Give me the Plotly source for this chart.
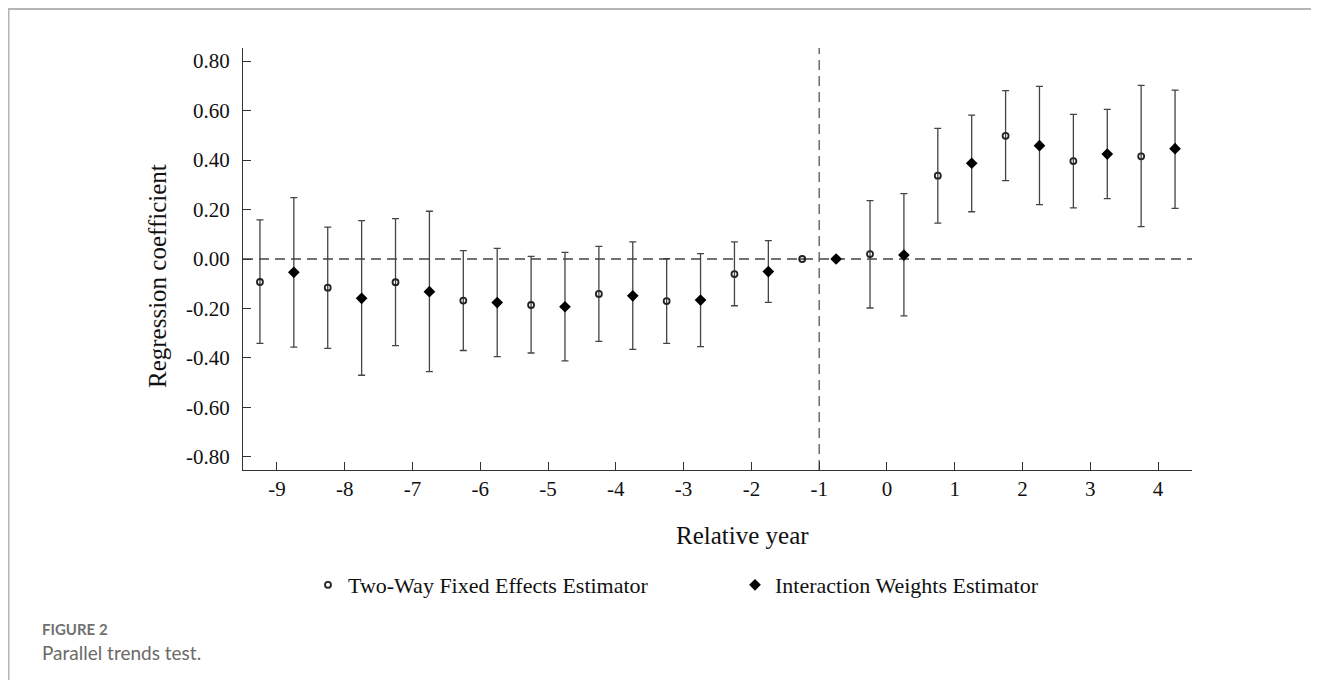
import plotly.graph_objects as go

# ---------------- data ----------------
years = [-9, -8, -7, -6, -5, -4, -3, -2, -1, 0, 1, 2, 3, 4]

twfe_coef = [-0.093, -0.116, -0.094, -0.168, -0.186, -0.141, -0.170, -0.061, 0.0, 0.020, 0.337, 0.498, 0.396, 0.415]
twfe_upper = [0.158, 0.129, 0.163, 0.034, 0.011, 0.051, 0.001, 0.069, None, 0.236, 0.528, 0.681, 0.585, 0.702]
twfe_lower = [-0.341, -0.361, -0.350, -0.370, -0.380, -0.333, -0.341, -0.189, None, -0.198, 0.145, 0.317, 0.207, 0.131]

iw_coef = [-0.054, -0.159, -0.132, -0.176, -0.193, -0.149, -0.166, -0.051, 0.0, 0.016, 0.387, 0.458, 0.424, 0.446]
iw_upper = [0.248, 0.155, 0.193, 0.043, 0.027, 0.069, 0.022, 0.074, None, 0.264, 0.582, 0.698, 0.605, 0.683]
iw_lower = [-0.356, -0.470, -0.455, -0.395, -0.412, -0.365, -0.354, -0.175, None, -0.230, 0.191, 0.220, 0.244, 0.205]

x_tickvals = [-9, -8, -7, -6, -5, -4, -3, -2, -1, 0, 1, 2, 3, 4]
x_ticktext = ["-9", "-8", "-7", "-6", "-5", "-4", "-3", "-2", "-1", "0", "1", "2", "3", "4"]
y_tickvals = [0.8, 0.6, 0.4, 0.2, 0.0, -0.2, -0.4, -0.6, -0.8]
y_ticktext = ["0.80", "0.60", "0.40", "0.20", "0.00", "-0.20", "-0.40", "-0.60", "-0.80"]

series_names = ["Two-Way Fixed Effects Estimator", "Interaction Weights Estimator"]
x_title = "Relative year"
y_title = "Regression coefficient"
fig_label = "FIGURE 2"
fig_caption = "Parallel trends test."
reference_year = -1

# ---------------- layout geometry ----------------
# the page places the figure 8px in from the top-left corner (default body margin)
OFF = 8
SW, SH = 1319, 688                      # screen size
W, H = SW - 2 * OFF, SH - 2 * OFF        # figure size
# plot area, in screen pixels
SL, SR, ST, SB = 243, 1192, 48, 470
L, R, T, B = SL - OFF, SR - OFF, ST - OFF, SB - OFF
PW, PH = R - L, B - T


def px_x(sx):
    return (sx - OFF - L) / PW


def px_y(sy):
    return (B - (sy - OFF)) / PH


def err(coef, upper, lower):
    plus, minus = [], []
    for c, u, l in zip(coef, upper, lower):
        plus.append(None if u is None else u - c)
        minus.append(None if l is None else c - l)
    return plus, minus


SERIF = "Liberation Serif, Times New Roman, serif"
INK = "#333333"

fig = go.Figure()

tp, tm = err(twfe_coef, twfe_upper, twfe_lower)
fig.add_trace(go.Scatter(
    x=[y - 0.25 for y in years], y=twfe_coef, mode="markers", name=series_names[0],
    marker=dict(symbol="circle-open", size=6, color="#222222", line=dict(width=1.8, color="#222222")),
    error_y=dict(type="data", symmetric=False, array=tp, arrayminus=tm,
                 color="#444444", thickness=1.3, width=3.5),
))

ip, im = err(iw_coef, iw_upper, iw_lower)
fig.add_trace(go.Scatter(
    x=[y + 0.25 for y in years], y=iw_coef, mode="markers", name=series_names[1],
    marker=dict(symbol="diamond", size=9, color="#000000"),
    error_y=dict(type="data", symmetric=False, array=ip, arrayminus=im,
                 color="#444444", thickness=1.3, width=3.5),
))

fig.update_xaxes(
    range=[-9.5, 4.5], tickvals=x_tickvals, ticktext=x_ticktext,
    showline=True, linecolor=INK, linewidth=1.3, mirror=False,
    ticks="inside", ticklen=8, tickcolor=INK, tickwidth=1.2,
    showgrid=False, zeroline=False, ticklabelstandoff=0,
    tickfont=dict(family=SERIF, size=21, color="#111111"),
)
fig.update_yaxes(
    range=[-0.853, 0.853], tickvals=y_tickvals, ticktext=y_ticktext,
    showline=True, linecolor=INK, linewidth=1.3, mirror=False,
    ticks="inside", ticklen=8, tickcolor=INK, tickwidth=1.2,
    showgrid=False, zeroline=False, ticklabelstandoff=8,
    tickfont=dict(family=SERIF, size=21, color="#111111"),
)

annotations = [
    dict(text=x_title, x=px_x(742), y=px_y(535), xref="paper", yref="paper",
         showarrow=False, xanchor="center", yanchor="middle",
         font=dict(family=SERIF, size=25, color="#111111")),
    dict(text=y_title, x=px_x(157), y=px_y(276), xref="paper", yref="paper",
         showarrow=False, xanchor="center", yanchor="middle", textangle=-90,
         font=dict(family=SERIF, size=25, color="#111111")),
    dict(text="<b>" + fig_label + "</b>", x=px_x(40), y=px_y(629), xref="paper", yref="paper",
         showarrow=False, xanchor="left", yanchor="middle",
         font=dict(family="Lato, Open Sans, sans-serif", size=15, color="#707070")),
    dict(text=fig_caption, x=px_x(40), y=px_y(652), xref="paper", yref="paper",
         showarrow=False, xanchor="left", yanchor="middle",
         font=dict(family="Lato, Open Sans, sans-serif", size=19, color="#6a6a6a")),
]

# page frame (light grey rule on top and left)
shapes = [
    dict(type="line", xref="paper", yref="paper", x0=px_x(8), x1=px_x(SW), y0=px_y(9), y1=px_y(9),
         line=dict(color="#b5b5b5", width=2)),
    dict(type="line", xref="paper", yref="paper", x0=px_x(8.5), x1=px_x(8.5), y0=px_y(9), y1=px_y(SH),
         line=dict(color="#b5b5b5", width=2)),
]

fig.update_layout(
    width=W, height=H,
    margin=dict(l=L, r=W - R, t=T, b=H - B, autoexpand=False),
    paper_bgcolor="white", plot_bgcolor="white",
    showlegend=True,
    legend=dict(orientation="h", x=px_x(308), y=px_y(585), xanchor="left", yanchor="middle",
                entrywidth=382, entrywidthmode="pixels",
                font=dict(family=SERIF, size=22, color="#111111"),
                bgcolor="rgba(0,0,0,0)", itemclick=False),
    annotations=annotations,
    shapes=shapes,
)

# reference lines (added after the frame so they are kept)
fig.add_hline(y=0, line=dict(color="#444444", width=1.3, dash="10px,6px"), layer="below")
fig.add_vline(x=reference_year, line=dict(color="#555555", width=1.3, dash="10px,6px"), layer="below")

fig.write_html("out.html")
